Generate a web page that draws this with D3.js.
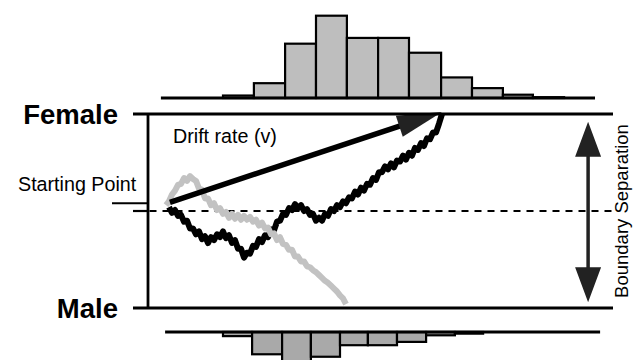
<!DOCTYPE html>
<html>
<head>
<meta charset="utf-8">
<script src="https://cdn.jsdelivr.net/npm/d3@7"></script>
<style>
  body { margin: 0; background: #fff; }
  svg { display: block; }
  text { font-family: "Liberation Sans", Arial, sans-serif; fill: #000; }
</style>
</head>
<body>
<div class="svg-container"></div>
<script>
const width = 635;
const height = 360;

// response time histograms (ms bin edges, relative counts)
const topEdges = [43, 147, 250, 353, 457, 560, 663, 767, 870, 977, 1080, 1183, 1283, 1387, 1490];
const topCounts = [0, 0, 3, 18, 66, 100, 73, 73, 55, 25, 12, 4, 1, 0];
const bottomEdges = [57, 153, 250, 347, 447, 543, 640, 733, 830, 927, 1023, 1117, 1213, 1310, 1407, 1507];
const bottomCounts = [0, 0, 5, 27, 40, 30, 16, 16, 12, 4, 2, 0, 0, 0, 0];

// two sample paths, evidence sampled every 10 ms
const dt = 10;
const blackStart = 70;
const blackPath = [4, -2, 1, -5, -4, -11, -10, -18, -18, -24, -21, -29, -26, -33, -27, -30,
  -24, -27, -21, -28, -25, -33, -30, -39, -39, -48, -43, -44, -36, -37, -29, -32, -25, -27,
  -19, -20, -11, -10, -3, -4, 3, 1, 7, 3, 6, 0, 2, -4, -3, -10, -7, -10, -3, -5, 2, 0, 6, 4,
  10, 8, 14, 13, 20, 17, 24, 21, 28, 27, 34, 32, 40, 40, 46, 43, 49, 45, 52, 51, 57, 53,
  60, 57, 65, 63, 70, 67, 75, 74, 81, 81, 90, 100];
const grayStart = 60;
const grayPath = [6, 10, 17, 21, 27, 28, 34, 31, 36, 33, 31, 23, 22, 13, 13, 6, 8, 1, 3, -3,
  -1, -7, -3, -8, -4, -9, -5, -9, -6, -11, -9, -15, -12, -18, -17, -24, -23, -30, -27, -34,
  -35, -40, -40, -47, -47, -52, -52, -57, -58, -61, -63, -66, -69, -72, -74, -77, -80, -83,
  -87, -90, -96];

// drift arrow (time ms, evidence)
const driftFrom = [73, 9];
const driftTo = [980, 102];

const boundary = 100;   // evidence at the upper boundary, lower is -boundary
const startPoint = 0;
const startLabelLevel = 8;

const x = d3.scaleLinear().domain([0, 1600]).range([148, 628]);
const y = d3.scaleLinear().domain([-boundary, boundary]).range([308, 114]);
const yTop = d3.scaleLinear().domain([0, 100]).range([98, 15.7]);
const yBottom = d3.scaleLinear().domain([0, 100]).range([332, 414.5]);

const svg = d3
  .select(".svg-container")
  .append("svg")
  .attr("width", width)
  .attr("height", height);

// top histogram
const topBins = topCounts.map((n, i) => ({ x0: topEdges[i], x1: topEdges[i + 1], n }));
svg
  .append("g")
  .selectAll("rect")
  .data(topBins.filter((d) => d.n > 0))
  .enter()
  .append("rect")
  .attr("x", (d) => x(d.x0))
  .attr("width", (d) => x(d.x1) - x(d.x0))
  .attr("y", (d) => yTop(d.n))
  .attr("height", (d) => yTop(0) - yTop(d.n))
  .attr("fill", "#bebebe")
  .attr("stroke", "#000")
  .attr("stroke-width", 2.2);

svg
  .append("line")
  .attr("x1", x(topEdges[0]))
  .attr("x2", x(topEdges[topEdges.length - 1]))
  .attr("y1", yTop(0))
  .attr("y2", yTop(0))
  .attr("stroke", "#000")
  .attr("stroke-width", 3.2);

// bottom histogram (hangs down)
const bottomBins = bottomCounts.map((n, i) => ({ x0: bottomEdges[i], x1: bottomEdges[i + 1], n }));
svg
  .append("g")
  .selectAll("rect")
  .data(bottomBins.filter((d) => d.n > 0))
  .enter()
  .append("rect")
  .attr("x", (d) => x(d.x0))
  .attr("width", (d) => x(d.x1) - x(d.x0))
  .attr("y", yBottom(0))
  .attr("height", (d) => yBottom(d.n) - yBottom(0))
  .attr("fill", "#a9a9a9")
  .attr("stroke", "#000")
  .attr("stroke-width", 2.2);

svg
  .append("line")
  .attr("x1", x(bottomEdges[0]))
  .attr("x2", x(bottomEdges[bottomEdges.length - 1]))
  .attr("y1", yBottom(0))
  .attr("y2", yBottom(0))
  .attr("stroke", "#000")
  .attr("stroke-width", 3.2);

// starting point, dashed
svg
  .append("line")
  .attr("x1", x(-50))
  .attr("x2", x(0))
  .attr("y1", y(startPoint))
  .attr("y2", y(startPoint))
  .attr("stroke", "#000")
  .attr("stroke-width", 2.2);

svg
  .append("line")
  .attr("x1", x(5))
  .attr("x2", x(1550))
  .attr("y1", y(startPoint))
  .attr("y2", y(startPoint))
  .attr("stroke", "#000")
  .attr("stroke-width", 2.2)
  .attr("stroke-dasharray", "7,6");

svg
  .append("line")
  .attr("x1", x(-120))
  .attr("x2", x(0))
  .attr("y1", y(startLabelLevel))
  .attr("y2", y(startLabelLevel))
  .attr("stroke", "#000")
  .attr("stroke-width", 2.2);

// sample paths
const walkLine = (t0) =>
  d3
    .line()
    .x((d, i) => x(t0 + i * dt))
    .y((d) => y(d));

svg
  .append("path")
  .datum(blackPath)
  .attr("d", walkLine(blackStart))
  .attr("fill", "none")
  .attr("stroke", "#000")
  .attr("stroke-width", 6)
  .attr("stroke-linejoin", "round");

svg
  .append("path")
  .datum(grayPath)
  .attr("d", walkLine(grayStart))
  .attr("fill", "none")
  .attr("stroke", "#c2c2c2")
  .attr("stroke-width", 6)
  .attr("stroke-linejoin", "round");

// drift arrow
const p0 = [x(driftFrom[0]), y(driftFrom[1])];
const p1 = [x(driftTo[0]), y(driftTo[1])];
const len = Math.hypot(p1[0] - p0[0], p1[1] - p0[1]);
const ux = (p1[0] - p0[0]) / len;
const uy = (p1[1] - p0[1]) / len;
const headLen = 45;
const headHalf = 11;
const bx = p1[0] - ux * headLen;
const by = p1[1] - uy * headLen;

svg
  .append("line")
  .attr("x1", p0[0])
  .attr("y1", p0[1])
  .attr("x2", bx + ux * 5)
  .attr("y2", by + uy * 5)
  .attr("stroke", "#000")
  .attr("stroke-width", 5.5);

svg
  .append("path")
  .attr(
    "d",
    `M${p1[0]},${p1[1]}L${bx - uy * headHalf},${by + ux * headHalf}L${bx + uy * headHalf},${by - ux * headHalf}Z`
  )
  .attr("fill", "#222");

// frame: boundaries and time axis
svg
  .append("g")
  .selectAll("line")
  .data([boundary, -boundary])
  .enter()
  .append("line")
  .attr("x1", x(-50))
  .attr("x2", x(1550))
  .attr("y1", (d) => y(d))
  .attr("y2", (d) => y(d))
  .attr("stroke", "#000")
  .attr("stroke-width", 2.8);

svg
  .append("line")
  .attr("x1", x(0))
  .attr("x2", x(0))
  .attr("y1", y(boundary))
  .attr("y2", y(-boundary))
  .attr("stroke", "#000")
  .attr("stroke-width", 2.8);

// boundary separation arrow
const bsX = x(1467);
const topTip = y(92);
const botTip = y(-94);
const arrowHead = 35;
const arrowHalf = 13;

svg
  .append("line")
  .attr("x1", bsX)
  .attr("x2", bsX)
  .attr("y1", topTip + arrowHead - 2)
  .attr("y2", botTip - arrowHead + 2)
  .attr("stroke", "#222")
  .attr("stroke-width", 3.5);

svg
  .append("path")
  .attr(
    "d",
    `M${bsX},${topTip}L${bsX - arrowHalf},${topTip + arrowHead}L${bsX + arrowHalf},${topTip + arrowHead}Z` +
      `M${bsX},${botTip}L${bsX - arrowHalf},${botTip - arrowHead}L${bsX + arrowHalf},${botTip - arrowHead}Z`
  )
  .attr("fill", "#222");

// labels
svg
  .append("text")
  .attr("x", 118)
  .attr("y", y(boundary) + 10)
  .attr("text-anchor", "end")
  .attr("font-size", "27.5px")
  .attr("font-weight", "bold")
  .text("Female");

svg
  .append("text")
  .attr("x", 118)
  .attr("y", y(-boundary) + 10)
  .attr("text-anchor", "end")
  .attr("font-size", "27.5px")
  .attr("font-weight", "bold")
  .text("Male");

svg
  .append("text")
  .attr("x", 18)
  .attr("y", 191)
  .attr("font-size", "19.7px")
  .text("Starting Point");

svg
  .append("text")
  .attr("x", 173)
  .attr("y", 143)
  .attr("font-size", "19.7px")
  .text("Drift rate (v)");

svg
  .append("text")
  .attr("transform", `translate(628,${y(0)}) rotate(-90)`)
  .attr("text-anchor", "middle")
  .attr("font-size", "18.5px")
  .text("Boundary Separation");
</script>
</body>
</html>
